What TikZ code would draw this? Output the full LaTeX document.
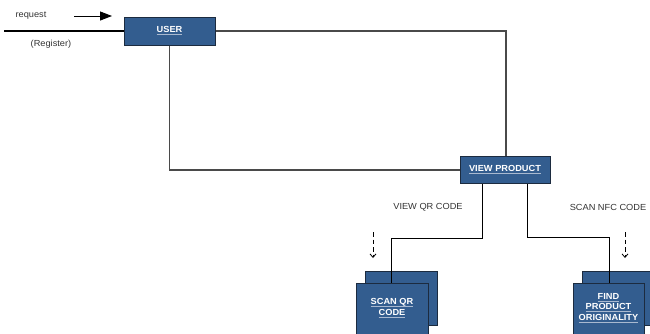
\documentclass[tikz,border=0pt]{standalone}
\usepackage{fontspec}
\setmainfont{Liberation Sans}[FakeStretch=1.05]
\usetikzlibrary{arrows.meta}
\definecolor{boxblue}{HTML}{335D8F}
\definecolor{boxedge}{HTML}{1C2B3F}
\definecolor{ulc}{HTML}{A9B9D0}
\definecolor{linegrey}{HTML}{4A4A4A}
\definecolor{txtgrey}{HTML}{333333}
\newcommand{\ulink}[1]{\setbox0\hbox{#1}\rlap{\color{ulc}\rule[-2.2pt]{\wd0}{0.7pt}}\box0}
\begin{document}
\begin{tikzpicture}[x=1pt,y=-1pt,
  box/.style={draw=boxedge, line width=1pt, fill=boxblue, inner sep=0pt, text=white,
    font=\fontsize{8.8}{10.8}\selectfont\bfseries, align=center},
  lbl/.style={text=white, font=\fontsize{8.8}{10.8}\selectfont\bfseries, align=center},
  txt/.style={font=\fontsize{8.8}{10}\selectfont, text=txtgrey},
  conn/.style={draw=linegrey, line width=1.1pt},
  dasharrow/.style={draw=black, line width=0.8pt, dash pattern=on 4.5pt off 3pt,
    -{Straight Barb[length=3.5pt,width=6pt]}}]
\useasboundingbox (0,0) rectangle (650,333);

% main boxes
\node[box, minimum width=91pt, minimum height=28pt] (user) at (169.5,31) {\ulink{USER}};
\node[box, minimum width=90pt, minimum height=27pt] (vp) at (505,170) {\ulink{VIEW PRODUCT}};

% back boxes
\node[box, line width=0.8pt, minimum width=72pt, minimum height=54pt] (qrb) at (401,298) {};
\node[box, line width=0.8pt, minimum width=83pt, minimum height=54pt] (fdb) at (623.5,298) {};

% input line and request arrow
\coordinate (lin) at (4,31);
\draw[conn, draw=black] (lin) -- (user.west);
\node[txt] (req) at (31,16) {request};
\node[txt] (reg) at (51,44) {(Register)};
\coordinate (ra) at (74,16);
\coordinate (rb) at (112,16);
\draw[line width=1pt, -{Triangle[length=12pt,width=9pt]}] (ra) -- (rb);

% user <-> view product loop
\draw[conn] (user.east) -| ([xshift=1pt]vp.north);
\draw[conn] (user.south) |- (vp.west);

% connector targets on top of the front boxes
\coordinate (qrtop) at (391,283);
\coordinate (fdtop) at (609,283);
\draw[draw=black, line width=0.9pt] ([xshift=23pt]vp.south west) -- ++(0,54) -| (qrtop);
\draw[draw=black, line width=0.9pt] ([xshift=68pt]vp.south west) -- ++(0,53) -| (fdtop);

% front boxes
\node[box, minimum width=72pt, minimum height=60pt] (qrf) at (392,313) {};
\node[box, minimum width=71pt, minimum height=60pt] (fdf) at (608.5,313) {};
\node[lbl] (qrl) at (392,308) {\ulink{SCAN QR}\\\ulink{CODE}};
\node[lbl] (fdl) at (608.5,308) {\ulink{FIND}\\\ulink{PRODUCT}\\\ulink{ORIGINALITY}};

% branch labels
\node[txt] (vqr) at (428,207) {VIEW QR CODE};
\node[txt] (snfc) at (608,207) {SCAN NFC CODE};

% dashed arrows
\coordinate (d1a) at (373,232);
\coordinate (d1b) at (373,258);
\coordinate (d2a) at (625,232);
\coordinate (d2b) at (625,258);
\draw[dasharrow] (d1a) -- (d1b);
\draw[dasharrow] (d2a) -- (d2b);
\end{tikzpicture}
\end{document}
